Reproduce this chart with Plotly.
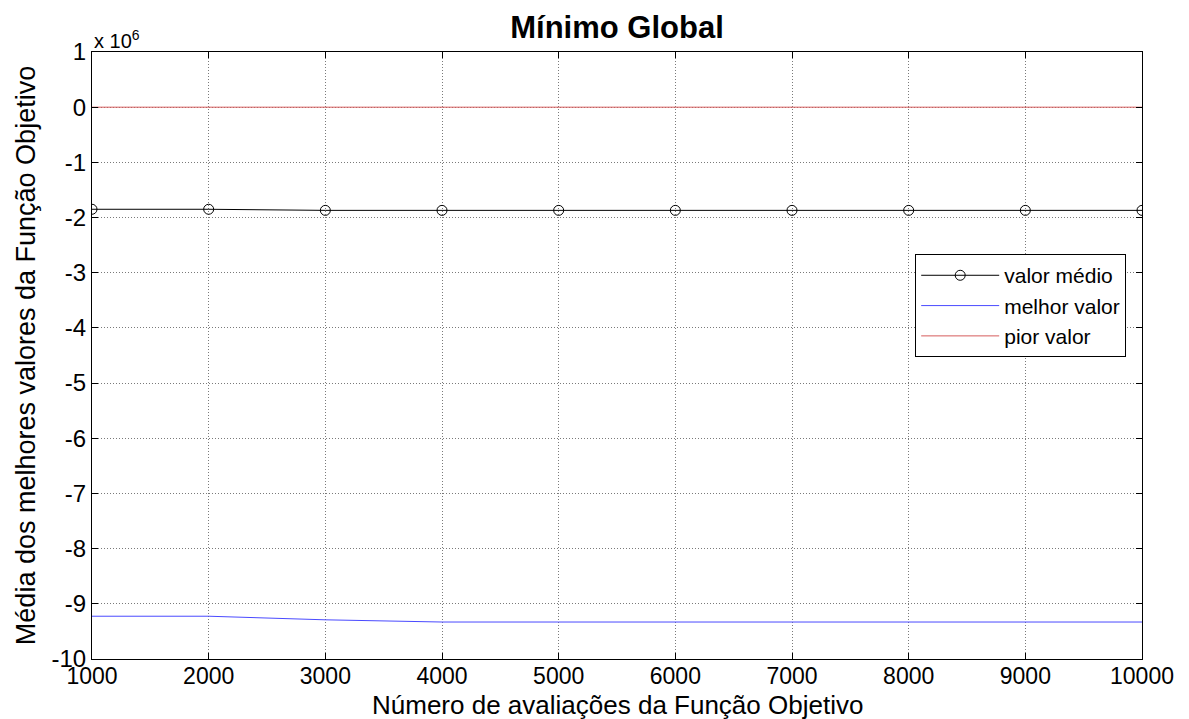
import plotly.graph_objects as go

avaliacoes = [1000, 2000, 3000, 4000, 5000, 6000, 7000, 8000, 9000, 10000]
valor_medio = [-1.85e6, -1.85e6, -1.87e6, -1.87e6, -1.87e6, -1.87e6, -1.87e6, -1.87e6, -1.87e6, -1.87e6]
melhor_valor = [-9.225e6, -9.225e6, -9.29e6, -9.33e6, -9.33e6, -9.33e6, -9.33e6, -9.33e6, -9.33e6, -9.33e6]
pior_valor = [0, 0, 0, 0, 0, 0, 0, 0, 0, 0]

y_ticks = [-10, -9, -8, -7, -6, -5, -4, -3, -2, -1, 0, 1]
y_labels = ["-10", "-9", "-8", "-7", "-6", "-5", "-4", "-3", "-2", "-1", "0", "1"]
x_labels = ["1000", "2000", "3000", "4000", "5000", "6000", "7000", "8000", "9000", "10000"]
escala = 1e6

FONT = "Liberation Sans, Arial, sans-serif"
H = 719

fig = go.Figure()
fig.add_trace(go.Scatter(
    x=avaliacoes, y=[v / escala for v in valor_medio], name="valor médio",
    mode="lines+markers",
    line=dict(color="black", width=1),
    marker=dict(symbol="circle-open", size=10, color="black", line=dict(width=1)),
))
fig.add_trace(go.Scatter(
    x=avaliacoes, y=[v / escala for v in melhor_valor], name="melhor valor",
    mode="lines", line=dict(color="#4a4aff", width=1),
))
fig.add_trace(go.Scatter(
    x=avaliacoes, y=[v / escala for v in pior_valor], name="pior valor",
    mode="lines", line=dict(color="#d65c5c", width=1),
))

fig.update_layout(
    width=1189, height=H,
    margin=dict(l=92, r=47, t=52, b=60, autoexpand=False),
    paper_bgcolor="white", plot_bgcolor="white",
    font=dict(family=FONT, size=24, color="black"),
    title=dict(text="<b>Mínimo Global</b>", x=0.5, xref="paper", y=1 - 27 / H,
               xanchor="center", yanchor="middle", font=dict(size=31)),
    showlegend=True,
    legend=dict(x=0.784, y=0.667, xanchor="left", yanchor="top",
                bgcolor="white", bordercolor="black", borderwidth=1,
                font=dict(size=21), tracegroupgap=0, itemwidth=78),
)

grid_style = dict(showgrid=True, gridcolor="#7a7a7a", griddash="1px,2px", gridwidth=1)

fig.update_xaxes(
    range=[1000, 10000], tickvals=avaliacoes, ticktext=x_labels, ticks="inside", ticklen=6,
    tickcolor="black", showline=True, linecolor="black", linewidth=1, mirror="ticks",
    zeroline=False, automargin=False, tickfont=dict(size=23), ticklabelstandoff=-4,
    **grid_style,
)
fig.update_yaxes(
    range=[-10, 1], tickvals=y_ticks, ticktext=y_labels, ticks="inside", ticklen=6,
    tickcolor="black", showline=True, linecolor="black", linewidth=1, mirror="ticks",
    zeroline=False, automargin=False, tickfont=dict(size=24),
    title=dict(text="Média dos melhores valores da Função Objetivo", standoff=8, font=dict(size=27)),
    **grid_style,
)

# x-axis title placed below the tick labels
fig.add_annotation(
    text="Número de avaliações da Função Objetivo", xref="paper", yref="paper",
    x=0.5, y=-(705 - 659) / (H - 52 - 60), xanchor="center", yanchor="middle",
    showarrow=False, font=dict(size=26),
)

fig.add_annotation(
    text="x 10<sup>6</sup>", xref="paper", yref="paper", x=0, y=1,
    xanchor="left", yanchor="bottom", showarrow=False, font=dict(size=20), yshift=-2,
)

fig.write_html("out.html")
